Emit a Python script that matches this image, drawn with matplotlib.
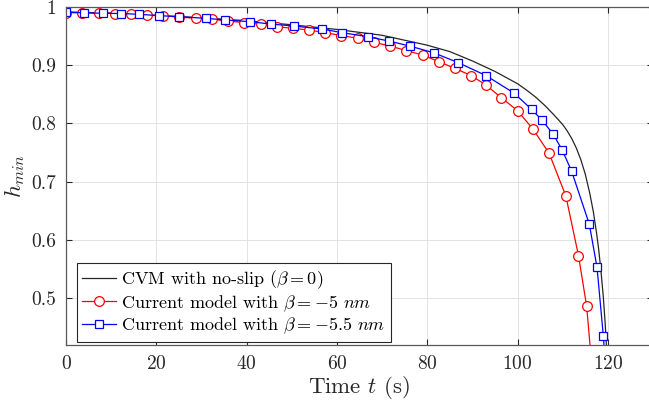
import numpy as np
import matplotlib
matplotlib.use('Agg')
import matplotlib.pyplot as plt

plt.rcParams['font.family'] = 'serif'
plt.rcParams['font.serif'] = ['cmr10']
plt.rcParams['mathtext.fontset'] = 'cm'
plt.rcParams['axes.formatter.use_mathtext'] = True

# CVM with no-slip (beta = 0)
t_cvm = [0, 10, 20, 30, 40, 50, 60, 70, 80, 85, 90, 95, 100, 102, 104, 106,
         108, 110, 111, 112, 113, 114, 115, 116, 116.8, 117.5, 118, 118.5,
         119, 119.4, 119.7, 120]
h_cvm = [0.991, 0.989, 0.985, 0.981, 0.976, 0.969, 0.961, 0.951, 0.934, 0.923,
         0.907, 0.889, 0.868, 0.857, 0.845, 0.831, 0.815, 0.798, 0.787, 0.774,
         0.758, 0.738, 0.713, 0.680, 0.648, 0.612, 0.582, 0.545, 0.502, 0.458,
         0.418, 0.37]

# current model, beta = -5 nm
t_b5 = [0, 3.6, 7.2, 10.8, 14.3, 17.9, 21.5, 25.1, 28.7, 32.3, 35.9, 39.5,
        43.1, 46.7, 50.2, 53.8, 57.4, 61.0, 64.6, 68.2, 71.8, 75.4, 79.0,
        82.6, 86.1, 89.7, 93.0, 96.4, 100.0, 103.4, 107.0, 110.7, 113.5,
        115.3, 116.5]
h_b5 = [0.990, 0.9895, 0.9892, 0.9883, 0.987, 0.9858, 0.9841, 0.9823, 0.9801,
        0.9784, 0.9755, 0.9726, 0.9698, 0.9657, 0.963, 0.9601, 0.9554, 0.9506,
        0.9458, 0.939, 0.9326, 0.9246, 0.9172, 0.9057, 0.8944, 0.882, 0.8658,
        0.844, 0.8217, 0.7903, 0.7487, 0.6755, 0.5731, 0.4869, 0.38]

# current model, beta = -5.5 nm
t_b55 = [0, 3.9, 8.2, 12.2, 16.1, 20.7, 25.0, 31.0, 35.3, 40.8, 45.3, 50.4,
         56.7, 61.2, 66.8, 71.5, 76.1, 81.4, 86.8, 93.0, 99.2, 103.1, 105.4,
         107.9, 109.9, 112.0, 115.9, 117.6, 119.0, 119.5]
h_b55 = [0.9904, 0.9897, 0.9887, 0.9883, 0.987, 0.9846, 0.9829, 0.9801, 0.9772,
         0.9743, 0.9703, 0.9669, 0.9618, 0.9554, 0.9486, 0.9412, 0.9326, 0.9211,
         0.9043, 0.882, 0.852, 0.8241, 0.8058, 0.7812, 0.7543, 0.7175, 0.627,
         0.5532, 0.4355, 0.38]

fig = plt.figure(figsize=(6.49, 4.11), dpi=100)
ax = fig.add_axes([66/649, 66/411, 587/649, 338.3/411])

ax.plot(t_cvm, h_cvm, color='#262626', lw=0.9,
        label=r'CVM with no-slip ($\beta = 0$)')
ax.plot(t_b5, h_b5, color='red', lw=0.9, marker='o', ms=7, mfc='white',
        mew=0.9, label=r'Current model with $\beta = -5$ $nm$')
ax.plot(t_b55, h_b55, color='blue', lw=0.9, marker='s', ms=5.5, mfc='white',
        mew=0.9, label=r'Current model with $\beta = -5.5$ $nm$')

ax.set_xlim(0, 130)
ax.set_ylim(0.42, 1.0)
ax.set_xticks([0, 20, 40, 60, 80, 100, 120])
ax.set_yticks([0.5, 0.6, 0.7, 0.8, 0.9, 1.0])
ax.set_yticklabels(['0.5', '0.6', '0.7', '0.8', '0.9', '1'])
ax.grid(True, color='#e3e3e3', lw=0.7)
ax.set_axisbelow(True)
ax.tick_params(direction='in', top=True, right=True, length=4,
               labelsize=14, colors='#262626', pad=7)
for s in ax.spines.values():
    s.set_color('#5a5a5a')
    s.set_linewidth(0.9)

ax.set_xlabel(r'Time $t$ (s)', fontsize=16.5, color='#262626', labelpad=1)
ax.set_ylabel(r'$h_{min}$', fontsize=16.5, color='#262626', labelpad=3)

leg = ax.legend(loc='lower left', bbox_to_anchor=(0.018, 0.01), fontsize=13,
                frameon=True, fancybox=False, framealpha=1, edgecolor='#262626',
                handlelength=1.9, handletextpad=0.25, borderpad=0.3,
                labelspacing=0.12, borderaxespad=0)
leg.get_frame().set_linewidth(0.8)

fig.savefig('out.png', dpi=100)
